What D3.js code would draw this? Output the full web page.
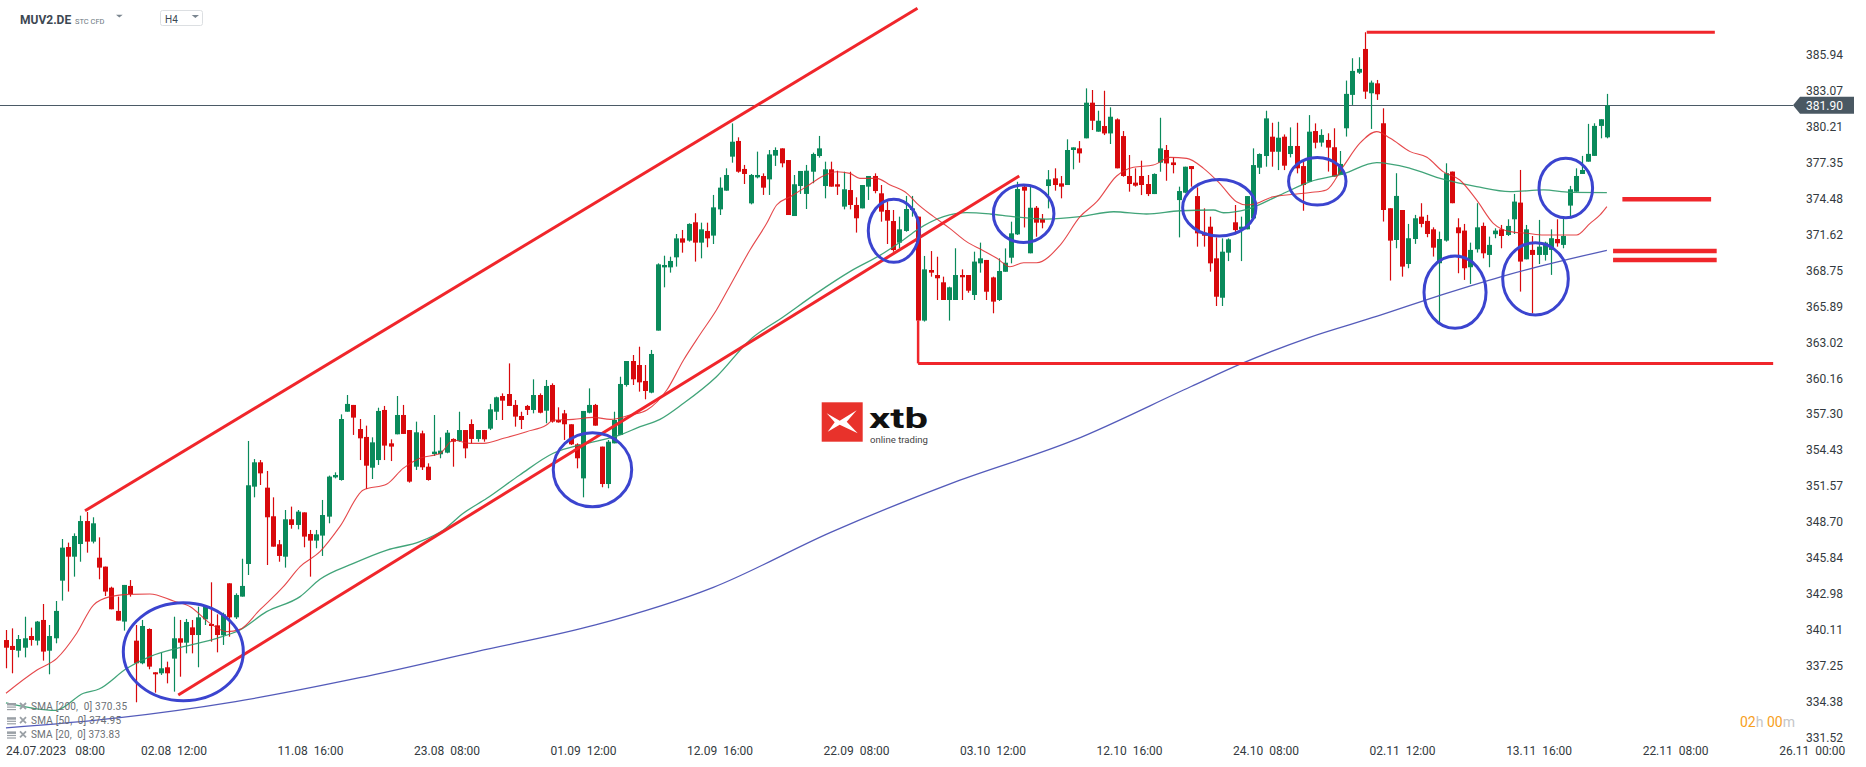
<!DOCTYPE html>
<html>
<head>
<meta charset="utf-8">
<script src="https://cdn.jsdelivr.net/npm/d3@7"></script>
<style>
  html, body { margin: 0; padding: 0; background: #fff; }
  svg { display: block; font-family: Roboto, "Noto Sans", sans-serif; }
</style>
</head>
<body>
<div id="chart"></div>
<script>
// H4 candles, bar index 0 = 24.07.2023 08:00, first visible bar is index -5
var firstIndex = -5;

var opens = [
  339.30, 338.83, 338.45, 338.69, 339.62, 339.25, 340.90, 338.45, 339.44, 344.03,
  346.71, 345.94, 346.95, 348.78, 347.14, 345.86, 345.15, 343.47, 341.62, 340.77,
  343.61, 339.25, 337.45, 340.18, 336.73, 336.65, 337.13, 337.82, 339.44, 339.09,
  340.31, 339.70, 340.95, 340.58, 340.47, 339.68, 343.82, 341.11, 342.76, 345.36,
  351.52, 353.46, 351.44, 349.16, 346.93, 345.94, 348.92, 348.47, 349.47, 347.75,
  347.22, 347.62, 349.13, 352.26, 352.05, 357.49, 358.03, 356.11, 355.48, 353.03,
  353.64, 357.63, 354.97, 355.69, 357.23, 356.03, 353.11, 355.77, 353.11, 354.12,
  354.10, 354.23, 355.32, 355.16, 356.03, 356.51, 355.32, 356.03, 356.14, 357.49,
  358.74, 358.90, 358.03, 357.15, 357.95, 357.63, 358.82, 357.57, 359.62, 356.83,
  357.36, 356.49, 354.89, 352.18, 357.41, 358.03, 354.71, 351.73, 354.97, 355.64,
  359.62, 361.53, 361.21, 359.94, 359.01, 363.95, 368.99, 368.99, 369.79, 371.30,
  371.12, 372.58, 370.96, 371.89, 371.52, 373.61, 375.10, 377.81, 379.06, 376.83,
  374.09, 376.16, 376.27, 376.00, 377.89, 378.47, 377.54, 373.08, 375.47, 374.84,
  376.61, 377.86, 375.47, 376.80, 375.61, 373.83, 375.15, 373.96, 373.69, 375.42,
  376.27, 374.89, 373.56, 372.68, 370.96, 371.89, 373.56, 373.03, 364.75, 368.78,
  368.38, 367.80, 366.39, 366.39, 368.38, 368.38, 366.79, 369.31, 369.58, 368.19,
  366.39, 368.64, 369.76, 371.62, 375.42, 370.11, 373.74, 372.84, 375.47, 376.08,
  375.68, 375.55, 378.34, 378.47, 379.27, 382.11, 379.80, 380.25, 379.66, 380.78,
  379.45, 376.27, 375.74, 376.27, 375.63, 374.83, 377.33, 378.34, 377.35, 374.35,
  374.94, 377.06, 374.67, 371.75, 372.23, 369.71, 366.57, 370.16, 372.58, 372.02,
  372.02, 372.89, 376.93, 377.86, 379.40, 378.20, 379.40, 378.02, 378.66, 377.06,
  375.81, 379.85, 378.93, 379.14, 378.56, 376.35, 380.07, 382.73, 384.50, 386.39,
  382.86, 383.65, 380.47, 373.70, 371.17, 373.56, 369.26, 371.25, 373.03, 372.69,
  372.02, 369.32, 371.12, 376.62, 372.18, 371.92, 369.00, 370.43, 372.29, 369.98,
  371.63, 372.02, 371.57, 372.82, 374.15, 369.63, 370.38, 369.98, 369.98, 370.38,
  371.25, 370.78, 373.91, 375.02, 376.43, 377.41, 377.87, 380.26, 379.35
];
var highs = [
  340.10, 340.23, 339.70, 341.16, 340.29, 340.82, 342.17, 340.50, 342.41, 347.35,
  347.06, 347.80, 349.21, 349.50, 349.08, 347.48, 345.15, 343.55, 342.76, 343.69,
  344.08, 340.50, 340.90, 340.23, 336.73, 338.30, 337.58, 341.16, 340.90, 340.98,
  340.90, 341.96, 342.09, 343.90, 341.35, 341.48, 343.82, 343.02, 345.78, 355.16,
  353.72, 353.64, 352.77, 350.67, 347.27, 349.66, 349.93, 349.66, 349.47, 348.07,
  348.07, 350.46, 352.40, 352.66, 357.28, 358.82, 358.03, 356.91, 356.38, 355.45,
  357.81, 357.95, 355.29, 358.74, 358.03, 356.03, 356.70, 355.98, 353.38, 357.23,
  355.45, 356.03, 355.37, 357.49, 356.03, 356.88, 356.03, 356.03, 358.11, 358.69,
  358.95, 361.34, 358.42, 357.49, 358.03, 360.07, 358.95, 360.02, 359.75, 357.84,
  357.63, 356.49, 354.97, 357.55, 359.35, 358.11, 354.71, 355.24, 357.49, 360.28,
  361.53, 362.01, 362.67, 361.21, 362.41, 369.31, 369.92, 369.84, 371.65, 371.97,
  372.50, 373.30, 372.55, 372.55, 374.76, 376.16, 376.88, 380.46, 379.35, 377.15,
  376.43, 378.21, 376.48, 378.34, 378.55, 378.47, 377.54, 376.35, 376.67, 377.15,
  378.13, 379.46, 377.41, 377.41, 376.69, 376.61, 376.61, 374.57, 375.55, 376.27,
  376.48, 375.55, 374.22, 373.56, 373.03, 374.68, 374.68, 373.03, 369.90, 370.29,
  369.84, 368.25, 367.45, 370.51, 368.83, 368.38, 370.24, 370.96, 369.58, 368.25,
  369.71, 370.50, 372.63, 375.81, 375.47, 375.47, 373.88, 373.24, 376.74, 376.88,
  376.27, 379.19, 378.55, 379.05, 383.25, 383.12, 381.47, 383.06, 381.74, 380.86,
  379.85, 377.94, 376.88, 377.49, 376.35, 376.48, 380.91, 378.74, 377.75, 375.42,
  377.01, 377.06, 375.36, 373.69, 373.03, 371.38, 371.30, 371.30, 373.96, 373.03,
  374.67, 378.47, 378.07, 381.47, 380.51, 380.59, 379.58, 380.14, 380.51, 377.54,
  381.12, 380.46, 379.99, 379.67, 380.07, 378.26, 383.87, 385.65, 385.73, 387.72,
  383.87, 383.92, 381.66, 373.70, 376.49, 373.56, 372.45, 373.17, 374.10, 373.17,
  372.18, 371.84, 377.28, 376.62, 372.90, 372.45, 370.96, 374.10, 372.56, 371.44,
  372.10, 372.37, 372.82, 374.84, 376.75, 372.37, 371.49, 372.77, 371.04, 372.02,
  372.82, 372.90, 375.48, 376.88, 377.87, 380.42, 380.47, 380.79, 382.81
];
var lows = [
  337.05, 336.65, 337.92, 337.92, 338.85, 338.88, 337.66, 336.57, 339.04, 342.44,
  343.16, 344.35, 345.54, 346.26, 347.00, 344.14, 342.81, 341.75, 340.85, 340.05,
  342.76, 334.34, 337.37, 336.97, 335.11, 336.52, 335.85, 335.19, 336.38, 338.24,
  338.24, 337.13, 340.50, 339.17, 338.32, 338.91, 339.57, 340.98, 342.76, 344.48,
  350.67, 351.65, 345.28, 346.74, 345.54, 345.07, 348.17, 348.12, 346.69, 344.35,
  346.61, 346.00, 348.60, 352.18, 352.00, 357.49, 355.64, 353.64, 351.33, 352.13,
  353.25, 353.64, 353.56, 355.69, 355.72, 351.84, 352.85, 352.85, 352.00, 353.96,
  353.78, 354.18, 353.11, 355.10, 353.78, 354.97, 355.10, 355.10, 356.03, 356.83,
  356.83, 357.95, 356.30, 356.11, 357.23, 357.36, 357.36, 356.57, 356.62, 356.62,
  355.24, 354.84, 352.98, 350.67, 357.36, 356.38, 351.47, 351.39, 354.97, 355.64,
  359.49, 359.62, 359.09, 358.48, 358.96, 363.95, 367.40, 368.57, 369.05, 370.16,
  371.04, 369.45, 369.71, 370.59, 370.85, 373.16, 375.10, 377.33, 376.53, 375.63,
  374.01, 376.08, 374.76, 374.76, 377.07, 376.96, 373.16, 373.08, 374.84, 373.64,
  375.69, 377.73, 374.49, 375.42, 374.76, 373.61, 373.61, 371.76, 373.69, 374.36,
  374.89, 372.63, 370.85, 370.24, 370.51, 371.83, 373.03, 364.75, 364.67, 368.25,
  366.39, 366.39, 364.75, 366.39, 366.39, 366.97, 366.39, 368.57, 366.39, 365.33,
  366.31, 368.64, 369.31, 371.57, 372.17, 370.11, 371.43, 372.10, 373.69, 375.10,
  374.49, 375.55, 376.80, 377.33, 379.27, 379.93, 379.80, 379.53, 378.82, 376.88,
  376.21, 375.02, 375.42, 374.75, 374.67, 374.83, 376.61, 375.89, 376.48, 371.38,
  374.89, 375.42, 370.64, 370.64, 368.65, 365.91, 365.91, 369.49, 371.62, 369.49,
  372.02, 372.89, 376.43, 377.01, 377.01, 376.74, 376.74, 377.75, 376.48, 373.50,
  375.81, 378.47, 378.61, 376.62, 376.22, 376.35, 379.41, 381.93, 384.40, 382.41,
  380.02, 382.33, 372.64, 367.94, 370.51, 368.25, 368.92, 370.86, 372.18, 371.39,
  369.85, 364.40, 371.04, 374.10, 368.52, 367.99, 367.67, 370.17, 369.71, 369.00,
  371.31, 370.51, 371.49, 371.65, 367.06, 369.63, 365.33, 369.26, 369.53, 368.39,
  370.64, 370.51, 373.03, 375.02, 376.43, 377.41, 377.87, 379.27, 379.27
];
var closes = [
  338.69, 338.51, 339.38, 339.44, 339.30, 340.77, 338.38, 339.62, 341.62, 346.66,
  345.94, 347.59, 348.78, 347.14, 348.60, 345.07, 343.16, 341.75, 340.85, 343.69,
  342.97, 337.45, 340.42, 337.18, 336.57, 337.05, 336.65, 339.44, 339.09, 340.74,
  339.70, 341.11, 342.01, 340.42, 339.70, 341.35, 341.11, 342.89, 343.61, 351.63,
  353.46, 352.58, 349.08, 346.74, 346.00, 348.92, 348.47, 349.53, 347.54, 347.22,
  347.72, 349.26, 352.32, 352.45, 356.91, 358.11, 357.02, 355.37, 353.19, 355.05,
  357.55, 354.79, 354.71, 357.23, 355.72, 351.92, 355.85, 353.06, 352.05, 354.31,
  354.39, 355.82, 355.10, 356.03, 354.57, 355.32, 356.03, 355.29, 357.68, 358.64,
  358.37, 357.95, 357.10, 356.83, 357.63, 358.82, 357.41, 359.54, 356.70, 356.64,
  356.49, 354.89, 353.78, 357.55, 358.03, 356.38, 351.73, 355.10, 356.83, 359.70,
  361.53, 360.07, 359.83, 359.14, 362.09, 369.23, 369.18, 369.50, 371.30, 370.96,
  372.45, 370.96, 372.02, 371.30, 373.77, 375.34, 376.35, 379.00, 376.61, 376.43,
  376.35, 376.35, 375.34, 377.99, 378.34, 377.28, 373.16, 375.61, 376.67, 376.69,
  378.02, 378.47, 376.80, 375.42, 375.42, 375.21, 373.96, 372.90, 375.55, 376.27,
  375.07, 373.43, 372.71, 370.37, 372.02, 373.64, 373.69, 364.75, 368.83, 368.57,
  368.12, 366.39, 367.40, 368.38, 368.20, 367.13, 369.45, 369.71, 367.05, 366.26,
  368.70, 369.36, 371.70, 375.23, 375.10, 373.74, 372.55, 372.55, 376.00, 375.55,
  375.42, 378.34, 378.55, 378.07, 382.11, 380.67, 380.67, 379.66, 380.99, 376.88,
  376.27, 375.63, 375.50, 375.55, 374.83, 376.43, 378.47, 377.27, 377.14, 375.07,
  377.01, 376.82, 371.70, 371.51, 369.31, 366.65, 370.24, 371.22, 371.96, 372.23,
  374.67, 377.14, 378.02, 380.86, 378.20, 379.32, 377.09, 378.66, 376.88, 375.55,
  379.80, 378.92, 379.54, 378.53, 376.22, 377.23, 382.81, 384.64, 384.80, 382.99,
  383.71, 382.78, 373.56, 371.12, 374.68, 369.05, 371.31, 372.90, 372.45, 371.65,
  370.56, 371.25, 376.49, 374.10, 371.71, 368.92, 370.38, 372.18, 370.11, 370.78,
  371.92, 371.49, 372.29, 374.23, 369.45, 372.02, 369.98, 370.64, 370.96, 371.31,
  370.91, 371.49, 375.21, 376.27, 376.75, 378.03, 380.26, 380.79, 381.90
];

// moving averages (bar index, value)
var sma20Idx = [-5, 0, 3.2, 6.4, 9.1, 11.8, 15, 18.2, 22, 24.7, 27.9, 30.6, 32.7, 35.9, 39.7, 42.4, 45.6, 48.8, 52.6, 56.4,
  59, 61.7, 65, 67.1, 69.8, 72, 75.2, 78.9, 82.1, 83.2, 86.4, 89.7, 92.4, 95.6, 98.3, 101.5, 104.2, 106.8, 109.5, 112.2,
  114.9, 117.6, 119.2, 121.4, 124, 126.7, 128.9, 131, 132.6, 135.3, 137.5, 140.2, 141.8, 144.5, 147.1, 149.8, 152.3, 154.7, 156.8, 159,
  161.1, 164.9, 168.1, 170.8, 174, 176.7, 179.9, 182.6, 185.3, 188, 190.6, 193.3, 195, 196.6, 199.2, 203, 205.2, 207.8, 210.5, 213.2,
  215.9, 218.1, 221.3, 224, 226.6, 229.3, 232, 234.7, 237.4, 240.1, 242.8, 245.5, 248.1, 250.3, 251.9, 253];
var sma20Val = [335.06, 336.91, 337.84, 339.84, 342.09, 342.76, 342.94, 342.97, 342.41, 341.96, 340.63, 339.97, 340.15, 341.70, 343.55, 345.15, 346.34, 348.33, 351.25, 351.73,
  352.98, 353.78, 354.18, 355.24, 354.97, 354.97, 355.37, 355.90, 356.43, 356.83, 356.88, 357.04, 356.88, 357.23, 357.63, 359.22, 361.61, 363.60, 365.59, 367.99,
  370.37, 372.50, 373.96, 374.62, 375.42, 376.27, 376.61, 376.48, 376.08, 376.08, 375.55, 374.89, 374.09, 373.03, 372.10, 371.04, 370.37, 369.71, 369.04, 369.36,
  369.36, 370.77, 373.03, 374.22, 376.27, 376.96, 377.14, 377.75, 377.67, 376.88, 375.68, 374.22, 373.96, 374.09, 374.62, 374.83, 374.95, 375.16, 377.02, 378.88,
  379.80, 379.27, 378.21, 377.76, 376.62, 375.95, 374.36, 372.50, 371.84, 371.71, 371.57, 371.57, 371.57, 372.50, 373.17, 373.83];

var sma50Idx = [-5, 3, 7.5, 10, 14.5, 18.2, 23.6, 29, 32.7, 37, 42.4, 45.6, 51, 56.4, 61.7, 65.5, 68.7, 72.5, 77.8, 83.2,
  88.6, 94, 97.2, 100.4, 104.2, 109.5, 114.9, 120.3, 125.6, 131, 136.4, 139.6, 141.8, 146.1, 149.8, 153.6, 157.3, 162.7, 168.1, 173.5,
  178.8, 184.2, 189.6, 191.2, 195, 200.3, 205.2, 210.5, 215.9, 221.3, 226.6, 232, 237.4, 242.8, 247.1, 253];
var sma50Val = [334.30, 333.70, 335.06, 335.40, 337.05, 337.98, 338.77, 339.44, 340.10, 341.56, 342.76, 344.14, 345.41, 346.47, 347.14, 348.07, 349.40, 350.59, 352.45, 354.18,
  354.97, 355.64, 356.30, 356.88, 358.16, 360.28, 363.21, 365.06, 366.92, 368.65, 370.11, 371.17, 371.97, 373.03, 373.35, 373.24, 373.03, 372.84, 373.03, 373.42,
  373.24, 373.50, 373.56, 373.34, 373.61, 374.75, 375.82, 376.43, 377.33, 376.88, 376.01, 375.42, 375.02, 375.16, 374.97, 374.95];

var sma200Idx = [-5, 13, 32, 52, 71, 90, 109, 128, 148, 167, 186, 194, 205, 216, 227, 237, 253];
var sma200Val = [332.30, 333.10, 334.40, 336.30, 338.40, 340.50, 343.50, 347.90, 351.90, 355.20, 359.50, 361.30, 363.40, 365.10, 366.90, 368.40, 370.35];

var legendNames = ['SMA [200,  0] 370.35', 'SMA [50,  0] 374.95', 'SMA [20,  0] 373.83'];

var yTicks = [331.52, 334.38, 337.25, 340.11, 342.98, 345.84, 348.70, 351.57, 354.43, 357.30,
  360.16, 363.02, 365.89, 368.75, 371.62, 374.48, 377.35, 380.21, 383.07, 385.94];
var xTickIdx = [0, 22, 44, 66, 88, 110, 132, 154, 176, 198, 220, 242, 264, 286];
var xTickLabels = ['24.07.2023   08:00', '02.08  12:00', '11.08  16:00', '23.08  08:00', '01.09  12:00', '12.09  16:00',
  '22.09  08:00', '03.10  12:00', '12.10  16:00', '24.10  08:00', '02.11  12:00', '13.11  16:00', '22.11  08:00', '26.11  00:00'];
var lastPrice = 381.90;

// hand drawn analysis: channel, levels, circles (bar index / price)
var trendLines = [
  {i0: 7.74, p0: 349.60, i1: 141.9, p1: 389.63},
  {i0: 22.77, p0: 334.92, i1: 158.3, p1: 376.27}
];
var levels = [
  {i0: 214.3, i1: 270.4, p: 387.72, w: 3},
  {i0: 142.0, i1: 279.8, p: 361.34, w: 3},
  {i0: 255.5, i1: 269.8, p: 374.41, w: 4.5},
  {i0: 254.0, i1: 270.7, p: 370.29, w: 4.5},
  {i0: 254.0, i1: 270.7, p: 369.58, w: 4.5}
];
var circles = [
  {i: 23.58, p: 338.37, ri: 9.67, rp: 3.90},
  {i: 89.52, p: 352.87, ri: 6.32, rp: 2.95},
  {i: 138.08, p: 371.90, ri: 4.11, rp: 2.51},
  {i: 159.01, p: 373.26, ri: 4.88, rp: 2.29},
  {i: 190.54, p: 373.74, ri: 5.91, rp: 2.25},
  {i: 206.33, p: 375.85, ri: 4.63, rp: 1.90},
  {i: 228.53, p: 367.01, ri: 5.00, rp: 2.88},
  {i: 241.50, p: 368.08, ri: 5.29, rp: 2.88},
  {i: 246.38, p: 375.31, ri: 4.32, rp: 2.37}
];

var W = 1866, H = 767;
var svg = d3.select('#chart').append('svg').attr('width', W).attr('height', H);

var x = d3.scaleLinear().domain([0, 286]).range([37, 37 + 286 * 6.205]);
var y = d3.scaleLinear().domain([331.52, 385.94]).range([737.7, 54.6]);

var green = '#0a8a5b', red = '#d8090c';

// current price line
svg.append('line')
  .attr('x1', 0).attr('x2', 1793)
  .attr('y1', Math.round(y(lastPrice)) + 0.5).attr('y2', Math.round(y(lastPrice)) + 0.5)
  .attr('stroke', '#4b5a66').attr('stroke-width', 1);

// candles
var candles = opens.map(function(o, k) {
  return {i: firstIndex + k, o: o, h: highs[k], l: lows[k], c: closes[k]};
});
var cg = svg.append('g');
cg.selectAll('line.wick')
  .data(candles)
  .enter()
  .append('line')
  .attr('class', 'wick')
  .attr('x1', function(d) { return Math.round(x(d.i)) + 0.5; })
  .attr('x2', function(d) { return Math.round(x(d.i)) + 0.5; })
  .attr('y1', function(d) { return y(d.h); })
  .attr('y2', function(d) { return y(d.l); })
  .attr('stroke', function(d) { return d.c >= d.o ? green : red; })
  .attr('stroke-width', 1.2);
cg.selectAll('rect')
  .data(candles)
  .enter()
  .append('rect')
  .attr('x', function(d) { return Math.round(x(d.i)) + 0.5 - 2.5; })
  .attr('y', function(d) { return y(Math.max(d.o, d.c)); })
  .attr('width', 5)
  .attr('height', function(d) { return Math.max(1.2, y(Math.min(d.o, d.c)) - y(Math.max(d.o, d.c))); })
  .attr('fill', function(d) { return d.c >= d.o ? green : red; });

// moving averages
function smaLine(idx, vals, color, w, op) {
  var pts = idx.map(function(v, k) { return [v, vals[k]]; });
  var line = d3.line()
    .x(function(d) { return x(d[0]); })
    .y(function(d) { return y(d[1]); })
    .curve(d3.curveMonotoneX);
  svg.append('path')
    .attr('d', line(pts))
    .attr('fill', 'none')
    .attr('stroke', color)
    .attr('stroke-width', w)
    .attr('stroke-opacity', op);
}
smaLine(sma200Idx, sma200Val, '#4b52b6', 1.3, 0.95);
smaLine(sma50Idx, sma50Val, '#2c9a6a', 1.3, 0.9);
smaLine(sma20Idx, sma20Val, '#e0282b', 1.1, 0.85);

// drawn trend lines and levels
var ann = svg.append('g');
ann.selectAll('line.trend')
  .data(trendLines)
  .enter()
  .append('line')
  .attr('class', 'trend')
  .attr('x1', function(d) { return x(d.i0); })
  .attr('y1', function(d) { return y(d.p0); })
  .attr('x2', function(d) { return x(d.i1); })
  .attr('y2', function(d) { return y(d.p1); })
  .attr('stroke', '#f0262b').attr('stroke-width', 3);
ann.selectAll('line.level')
  .data(levels)
  .enter()
  .append('line')
  .attr('class', 'level')
  .attr('x1', function(d) { return x(d.i0); })
  .attr('x2', function(d) { return x(d.i1); })
  .attr('y1', function(d) { return y(d.p); })
  .attr('y2', function(d) { return y(d.p); })
  .attr('stroke', '#f0262b')
  .attr('stroke-width', function(d) { return d.w; });
// small drop line from the gap candle to the support level
ann.append('line')
  .attr('x1', x(142)).attr('x2', x(142))
  .attr('y1', y(364.75)).attr('y2', y(361.34))
  .attr('stroke', '#f0262b').attr('stroke-width', 2.5);

ann.selectAll('ellipse')
  .data(circles)
  .enter()
  .append('ellipse')
  .attr('cx', function(d) { return x(d.i); })
  .attr('cy', function(d) { return y(d.p); })
  .attr('rx', function(d) { return x(d.i + d.ri) - x(d.i); })
  .attr('ry', function(d) { return y(d.p - d.rp) - y(d.p); })
  .attr('fill', 'none')
  .attr('stroke', '#3b44cf')
  .attr('stroke-width', 3);

// y axis on the right
var yAxis = svg.append('g')
  .attr('transform', 'translate(1806,0)')
  .call(d3.axisRight(y).tickValues(yTicks).tickFormat(function(d) { return d.toFixed(2); }).tickSize(0).tickPadding(0));
yAxis.select('.domain').remove();
yAxis.selectAll('text')
  .attr('font-family', 'Roboto, sans-serif')
  .attr('font-size', 12)
  .attr('fill', '#333a40');

// last price tag
var py = y(lastPrice);
svg.append('path')
  .attr('d', 'M1793,' + py + ' L1800,' + (py - 8.5) + ' L1854,' + (py - 8.5) + ' L1854,' + (py + 8.5) + ' L1800,' + (py + 8.5) + ' Z')
  .attr('fill', '#4a5863');
svg.append('text')
  .attr('x', 1806).attr('y', py)
  .attr('dy', '0.35em')
  .attr('font-size', 12)
  .attr('fill', '#fff')
  .text(lastPrice.toFixed(2));

// x axis
var xAxis = svg.append('g')
  .attr('transform', 'translate(0,743.5)')
  .call(d3.axisBottom(x).tickValues(xTickIdx).tickFormat(function(d, k) { return xTickLabels[k]; }).tickSize(0).tickPadding(3));
xAxis.select('.domain').remove();
xAxis.selectAll('text')
  .attr('font-family', 'Roboto, sans-serif')
  .attr('font-size', 12)
  .attr('fill', '#333a40')
  .style('white-space', 'pre');
xAxis.selectAll('.tick').filter(function(d, k) { return k === 0; })
  .attr('transform', 'translate(6,0)')
  .select('text').attr('text-anchor', 'start');

// indicator legend
var legendWidths = [96, 90, 89];
var lg = svg.append('g');
legendNames.forEach(function(name, k) {
  var by = 710 + k * 14.2;
  lg.append('rect').attr('x', 7).attr('y', by - 7).attr('width', 9).attr('height', 2.5).attr('fill', '#9aa0a6');
  lg.append('rect').attr('x', 7).attr('y', by - 3.5).attr('width', 9).attr('height', 1.2).attr('fill', '#9aa0a6');
  lg.append('rect').attr('x', 7).attr('y', by - 1).attr('width', 9).attr('height', 1.2).attr('fill', '#9aa0a6');
  lg.append('path')
    .attr('d', 'M20,' + (by - 7) + ' L26,' + (by - 1) + ' M26,' + (by - 7) + ' L20,' + (by - 1))
    .attr('stroke', '#9aa0a6').attr('stroke-width', 1.8);
  lg.append('text')
    .attr('x', 31).attr('y', by)
    .attr('font-size', 10)
    .attr('fill', '#6b7075')
    .attr('textLength', legendWidths[k])
    .attr('lengthAdjust', 'spacing')
    .style('white-space', 'pre')
    .text(name);
});

// countdown to next bar
var cd = svg.append('text').attr('x', 1740).attr('y', 727).attr('font-size', 14);
cd.append('tspan').attr('fill', '#f7a01c').text('02');
cd.append('tspan').attr('fill', '#c4c6c8').text('h ');
cd.append('tspan').attr('fill', '#f7a01c').text('00');
cd.append('tspan').attr('fill', '#c4c6c8').text('m');

// header
svg.append('text').attr('x', 20).attr('y', 24).attr('font-size', 12).attr('font-weight', 'bold').attr('fill', '#3d4852').text('MUV2.DE');
svg.append('text').attr('x', 75).attr('y', 23.5).attr('font-size', 7.5).attr('fill', '#6b7780').text('STC CFD');
svg.append('path').attr('d', 'M116,14.7 L122.7,14.7 L119.35,17.6 Z').attr('fill', '#7b8690');
svg.append('rect').attr('x', 160.5).attr('y', 10.5).attr('width', 42).attr('height', 15).attr('rx', 2)
  .attr('fill', '#fff').attr('stroke', '#dcdfe2');
svg.append('text').attr('x', 165).attr('y', 23).attr('font-size', 10).attr('fill', '#3d4852').text('H4');
svg.append('path').attr('d', 'M191.7,15 L199,15 L195.35,18 Z').attr('fill', '#7b8690');

// watermark logo
var logo = svg.append('g').attr('transform', 'translate(821.7,402.3)');
logo.append('rect').attr('width', 41).attr('height', 39.4).attr('fill', '#e8322b');
logo.append('path')
  .attr('d', 'M5,11 L18,18.5 L35,8 L25,19.5 L36,31 L18,22.5 L6,29.5 L13,20 Z')
  .attr('fill', '#fff');
svg.append('text').attr('x', 869).attr('y', 428).attr('font-size', 27).attr('font-weight', 'bold')
  .attr('fill', '#111').attr('textLength', 59).attr('lengthAdjust', 'spacingAndGlyphs').text('xtb');
svg.append('text').attr('x', 870).attr('y', 443).attr('font-size', 9)
  .attr('fill', '#444').attr('textLength', 58).attr('lengthAdjust', 'spacingAndGlyphs').text('online trading');
</script>
</body>
</html>
